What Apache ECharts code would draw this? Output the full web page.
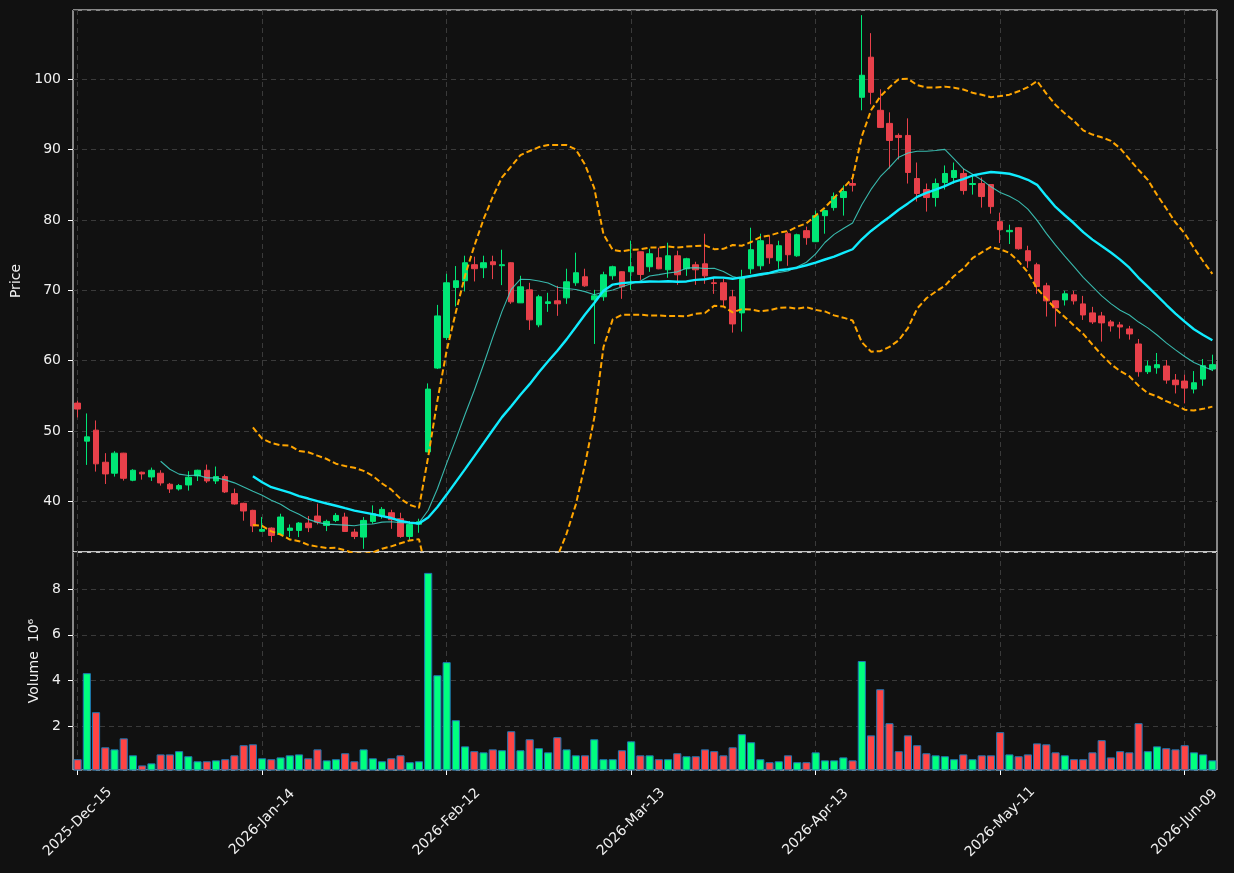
<!doctype html>
<html>
    <head>
        <meta charset="utf-8">
        <title>Candles + Volume</title>
        <style>
            html, body { margin: 0; padding: 0; background: #111111; }
            #main { width: 1234px; height: 873px; }
        </style>
    </head>
    <body>
        <div id="main"></div>
        <script src="https://cdn.jsdelivr.net/npm/echarts@6/dist/echarts.min.js"></script>
        <script>
            // x tick labels, one every tickStep candles
            var tickLabels = ['2025-Dec-15', '2026-Jan-14', '2026-Feb-12', '2026-Mar-13',
                '2026-Apr-13', '2026-May-11', '2026-Jun-09'];
            var tickStep = 20;

            // [open, high, low, close]
            var ohlc = [
                [53.97, 54.30, 51.93, 53.12], [48.56, 52.50, 45.18, 49.17], [50.12, 51.50, 44.23, 45.33],
                [45.56, 46.85, 42.47, 43.90], [44.00, 47.13, 43.52, 46.85], [46.85, 46.90, 42.95, 43.28],
                [43.00, 44.57, 42.86, 44.42], [44.14, 44.23, 43.09, 43.90], [43.47, 44.80, 42.90, 44.42],
                [44.00, 44.42, 42.24, 42.62], [42.43, 42.62, 41.19, 41.76], [41.76, 42.47, 41.53, 42.24],
                [42.33, 44.28, 41.53, 43.43], [43.62, 44.50, 42.90, 44.42], [44.42, 45.23, 42.62, 42.90],
                [42.90, 44.95, 42.47, 43.52], [43.52, 43.80, 41.19, 41.34], [41.10, 41.81, 39.53, 39.63],
                [39.72, 39.80, 37.25, 38.63], [38.72, 38.80, 35.63, 36.49], [35.75, 37.77, 35.63, 36.01],
                [36.20, 36.30, 34.20, 35.15], [35.29, 38.24, 35.20, 37.77], [35.87, 36.72, 34.92, 36.20],
                [35.87, 37.05, 34.92, 36.91], [36.91, 37.91, 35.63, 36.25], [37.91, 39.67, 36.72, 37.05],
                [36.58, 37.39, 35.77, 37.15], [37.29, 38.33, 37.05, 38.00], [37.77, 38.38, 35.70, 35.72],
                [35.63, 36.10, 34.63, 35.01], [34.92, 37.77, 33.25, 37.29], [37.15, 39.43, 36.81, 38.24],
                [37.91, 39.19, 37.53, 38.86], [38.38, 38.81, 36.10, 37.39], [37.53, 38.38, 34.82, 35.01],
                [35.01, 37.20, 34.44, 36.72], [36.75, 37.53, 35.53, 37.10], [47.03, 56.77, 47.00, 55.96],
                [58.95, 67.93, 58.81, 66.36], [63.28, 72.35, 62.94, 71.07], [70.41, 73.45, 67.70, 71.36],
                [71.36, 74.92, 69.84, 73.92], [73.64, 74.78, 71.26, 73.07], [73.21, 74.92, 71.74, 73.92],
                [74.06, 74.92, 71.59, 73.64], [73.50, 75.77, 70.74, 73.64], [73.92, 74.00, 68.08, 68.36],
                [68.22, 72.07, 68.20, 70.50], [70.07, 71.07, 64.37, 65.80], [65.09, 69.36, 64.75, 69.08],
                [68.13, 69.65, 66.94, 68.36], [68.51, 70.64, 66.37, 68.08], [68.93, 73.07, 68.08, 71.21],
                [71.07, 75.35, 70.64, 72.50], [71.93, 73.07, 70.50, 70.64], [68.65, 70.07, 62.38, 69.22],
                [69.08, 72.64, 68.51, 72.21], [72.07, 73.50, 71.50, 73.35], [72.64, 72.70, 68.79, 70.50],
                [72.64, 77.06, 70.07, 73.35], [75.48, 75.50, 71.49, 72.25], [73.35, 75.91, 72.63, 75.20],
                [74.63, 76.05, 73.00, 73.06], [72.92, 76.77, 71.78, 74.91], [74.91, 75.63, 70.78, 72.21],
                [73.06, 74.63, 72.06, 74.49], [73.63, 74.06, 70.78, 72.92], [73.77, 78.05, 70.92, 72.06],
                [71.07, 71.78, 69.50, 70.97], [71.07, 71.64, 67.79, 68.64], [69.07, 70.07, 63.99, 65.22],
                [66.79, 72.92, 64.13, 71.78], [73.06, 78.90, 72.35, 75.77], [73.49, 78.05, 72.92, 77.05],
                [76.48, 77.76, 73.77, 74.63], [74.20, 77.05, 73.06, 76.34], [78.05, 78.33, 73.49, 75.06],
                [74.91, 78.05, 74.77, 77.90], [78.48, 79.05, 76.48, 77.48], [76.91, 81.33, 76.90, 80.61],
                [80.61, 81.47, 78.05, 81.33], [81.76, 83.90, 81.33, 83.33], [83.19, 84.90, 80.62, 84.04],
                [85.18, 86.46, 84.04, 84.94], [97.44, 109.12, 95.59, 100.57], [103.14, 106.56, 96.44, 98.15],
                [95.59, 98.58, 93.10, 93.16], [93.73, 95.30, 87.32, 91.31], [92.02, 92.31, 88.60, 91.74],
                [92.02, 94.45, 85.18, 86.75], [85.89, 88.17, 82.62, 83.76], [84.33, 85.18, 81.19, 83.19],
                [83.19, 85.89, 81.90, 85.18], [85.32, 87.75, 84.33, 86.61], [86.04, 88.17, 85.18, 87.04],
                [86.61, 87.32, 83.61, 84.18], [85.04, 86.46, 83.61, 85.18], [85.18, 86.04, 81.76, 83.33],
                [85.04, 85.10, 80.90, 81.90], [79.76, 81.04, 76.72, 78.62], [78.33, 79.33, 76.58, 78.52],
                [78.90, 79.00, 75.77, 75.91], [75.63, 76.34, 73.20, 74.20], [73.63, 73.92, 69.50, 70.54],
                [70.64, 71.07, 66.27, 68.50], [68.50, 68.55, 64.84, 67.50], [68.64, 69.93, 67.84, 69.50],
                [69.36, 69.93, 67.98, 68.50], [68.07, 69.21, 65.79, 66.50], [66.79, 67.65, 65.22, 65.51],
                [66.36, 66.93, 62.71, 65.37], [65.51, 65.79, 64.13, 64.94], [65.08, 65.51, 63.13, 64.79],
                [64.51, 64.94, 62.99, 63.80], [62.37, 63.08, 57.72, 58.43], [58.43, 60.00, 58.10, 59.24],
                [58.99, 61.09, 58.14, 59.43], [59.24, 60.09, 56.72, 57.24], [57.24, 58.10, 55.34, 56.58],
                [57.10, 58.00, 53.92, 56.10], [55.96, 58.52, 55.34, 56.86], [57.38, 60.23, 56.43, 59.28],
                [58.81, 60.85, 58.52, 59.43]
            ];

            // volume, millions
            var volumes = [
                0.58, 4.33, 2.63, 1.10, 1.01, 1.49, 0.75, 0.31, 0.40, 0.79,
                0.79, 0.93, 0.71, 0.49, 0.49, 0.53, 0.58, 0.75, 1.19, 1.23,
                0.62, 0.58, 0.66, 0.75, 0.79, 0.62, 1.01, 0.53, 0.58, 0.84,
                0.49, 1.01, 0.62, 0.49, 0.62, 0.75, 0.45, 0.49, 8.70, 4.24,
                4.81, 2.28, 1.14, 0.93, 0.88, 1.01, 0.97, 1.80, 0.97, 1.45,
                1.06, 0.88, 1.54, 1.01, 0.75, 0.75, 1.45, 0.58, 0.58, 0.97,
                1.36, 0.75, 0.75, 0.58, 0.58, 0.84, 0.71, 0.71, 1.01, 0.93,
                0.75, 1.10, 1.67, 1.32, 0.58, 0.45, 0.49, 0.75, 0.45, 0.45,
                0.88, 0.53, 0.53, 0.66, 0.53, 4.86, 1.62, 3.63, 2.15, 0.93,
                1.62, 1.19, 0.84, 0.75, 0.71, 0.58, 0.79, 0.58, 0.75, 0.75,
                1.76, 0.79, 0.71, 0.79, 1.27, 1.23, 0.88, 0.75, 0.58, 0.58,
                0.88, 1.41, 0.66, 0.93, 0.88, 2.15, 0.93, 1.14, 1.06, 1.01,
                1.19, 0.88, 0.79, 0.53
            ];

            var upColor = '#00e676';
            var downColor = '#e8404a';
            var volUp = '#00ff7f';
            var volDown = '#ff4444';
            var textColor = '#f0f0f0';
            var gridColor = '#3a3a3a';
            var font = 'DejaVu Sans';

            var categories = ohlc.map(function (d, i) { return i; });
            var closes = ohlc.map(function (d) { return d[3]; });

            // moving average + bollinger (20, 2)
            function movingAvg(n) {
                return closes.map(function (c, i) {
                    if (i < n - 1) return '-';
                    var s = 0;
                    for (var k = i - n + 1; k <= i; k++) s += closes[k];
                    return +(s / n).toFixed(3);
                });
            }
            function band(n, mult) {
                var ma = movingAvg(n);
                return closes.map(function (c, i) {
                    if (i < n - 1) return '-';
                    var v = 0;
                    for (var k = i - n + 1; k <= i; k++) v += Math.pow(closes[k] - ma[i], 2);
                    return +(ma[i] + mult * Math.sqrt(v / n)).toFixed(3);
                });
            }
            var ma10 = movingAvg(10);
            var ma20 = movingAvg(20);
            var bbUpper = band(20, 2);
            var bbLower = band(20, -2);

            function showTick(index) {
                return index % tickStep === 0;
            }

            var chart = echarts.init(document.getElementById('main'), null, {
                renderer: 'canvas',
                devicePixelRatio: 1
            });

            var splitLineStyle = {
                color: gridColor,
                width: 1,
                type: [5, 4]
            };

            chart.setOption({
                animation: false,
                backgroundColor: '#111111',
                textStyle: { fontFamily: font },
                grid: [
                    { left: 73, right: 17, top: 10, height: 542, show: true,
                      borderColor: '#ffffff', borderWidth: 1, backgroundColor: 'transparent' },
                    { left: 73, right: 17, top: 552, height: 218, show: true,
                      borderColor: '#ffffff', borderWidth: 1, backgroundColor: 'transparent' }
                ],
                xAxis: [
                    {
                        type: 'category', gridIndex: 0, data: categories, boundaryGap: true,
                        axisLine: { show: false },
                        axisTick: { show: false },
                        axisLabel: { show: false },
                        splitLine: { show: true, interval: showTick, alignWithLabel: true, lineStyle: splitLineStyle }
                    },
                    {
                        type: 'category', gridIndex: 1, data: categories, boundaryGap: true,
                        axisLine: { show: false },
                        axisTick: { show: true, interval: showTick, alignWithLabel: true, length: 5,
                            lineStyle: { color: '#ffffff' } },
                        axisLabel: {
                            interval: showTick, rotate: 45, margin: 52,
                            align: 'center', verticalAlign: 'middle',
                            color: textColor, fontSize: 14, fontFamily: font,
                            formatter: function (v, index) {
                                return tickLabels[Math.round(index / tickStep)];
                            }
                        },
                        splitLine: { show: true, interval: showTick, alignWithLabel: true, lineStyle: splitLineStyle }
                    }
                ],
                yAxis: [
                    {
                        type: 'value', gridIndex: 0, min: 32.8, max: 109.85, splitNumber: 8,
                        name: 'Price', nameLocation: 'middle', nameGap: 47, nameRotate: 90,
                        nameTextStyle: { color: textColor, fontSize: 14, fontFamily: font },
                        axisLine: { show: false },
                        axisTick: { show: true, length: 5, lineStyle: { color: '#ffffff' } },
                        axisLabel: { color: textColor, fontSize: 14, fontFamily: font, margin: 12,
                            showMinLabel: false, showMaxLabel: false },
                        splitLine: { show: true, lineStyle: splitLineStyle }
                    },
                    {
                        type: 'value', gridIndex: 1, min: 0.11, max: 9.61, splitNumber: 5,
                        name: 'Volume  10\u2076', nameLocation: 'middle', nameGap: 31, nameRotate: 90,
                        nameTextStyle: { color: textColor, fontSize: 14, fontFamily: font },
                        axisLine: { show: false },
                        axisTick: { show: true, length: 5, lineStyle: { color: '#ffffff' } },
                        axisLabel: { color: textColor, fontSize: 14, fontFamily: font, margin: 12,
                            showMinLabel: false, showMaxLabel: false },
                        splitLine: { show: true, lineStyle: splitLineStyle }
                    }
                ],
                series: [
                    {
                        type: 'candlestick', xAxisIndex: 0, yAxisIndex: 0,
                        barWidth: 6,
                        itemStyle: {
                            color: upColor, color0: downColor,
                            borderColor: upColor, borderColor0: downColor, borderWidth: 1
                        },
                        data: ohlc.map(function (d) { return [d[0], d[3], d[2], d[1]]; })
                    },
                    {
                        type: 'line', xAxisIndex: 0, yAxisIndex: 0, data: ma10,
                        showSymbol: false, symbol: 'none', clip: true,
                        lineStyle: { color: 'rgba(64, 214, 200, 0.85)', width: 1.1 }
                    },
                    {
                        type: 'line', xAxisIndex: 0, yAxisIndex: 0, data: ma20,
                        showSymbol: false, symbol: 'none', clip: true,
                        lineStyle: { color: '#10ecff', width: 2.4 }
                    },
                    {
                        type: 'line', xAxisIndex: 0, yAxisIndex: 0, data: bbUpper,
                        showSymbol: false, symbol: 'none', clip: true,
                        lineStyle: { color: '#ffa500', width: 2, type: [6, 3] }
                    },
                    {
                        type: 'line', xAxisIndex: 0, yAxisIndex: 0, data: bbLower,
                        showSymbol: false, symbol: 'none', clip: true,
                        lineStyle: { color: '#ffa500', width: 2, type: [6, 3] }
                    },
                    {
                        type: 'bar', xAxisIndex: 1, yAxisIndex: 1, barWidth: '88%',
                        data: volumes.map(function (v, i) {
                            var up = ohlc[i][3] >= ohlc[i][0];
                            return {
                                value: v,
                                itemStyle: { color: up ? volUp : volDown, borderColor: '#1f77b4', borderWidth: 1 }
                            };
                        })
                    }
                ]
            });

            window.onresize = chart.resize;
        </script>
    </body>
</html>
